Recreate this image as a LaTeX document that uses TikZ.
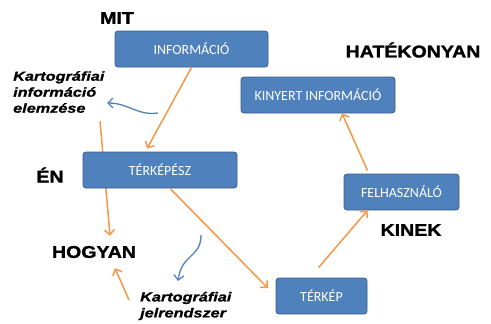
\documentclass[tikz,border=0pt]{standalone}
\usepackage{fontspec}
\usepackage{tikz}
\usetikzlibrary{positioning,backgrounds,arrows.meta}
\newfontfamily\boxfont{Carlito}
\newfontfamily\heavyfont[FakeStretch=1.15,FakeBold=1.5]{Liberation Sans Bold}
\newfontfamily\notefont[FakeStretch=1.25,FakeBold=1]{Liberation Sans Bold Italic}
\definecolor{boxblue}{RGB}{79,129,189}
\definecolor{boxedge}{RGB}{56,93,138}
\definecolor{arrorange}{RGB}{247,150,70}

\begin{document}
\begin{tikzpicture}[ x=1pt , y=-1pt , node distance =1cm , on grid ,
  >={Straight Barb[length=5pt,width=10pt]},
  box/.style={rectangle, rounded corners=3pt, draw=boxedge, line width=0.8pt, fill=boxblue, text=white, font=\boxfont\fontsize{14}{16}\selectfont, minimum height=36pt, inner sep=0pt},
  lbl/.style={font=\heavyfont\fontsize{17}{20}\selectfont, inner sep=0pt},
  note/.style={font=\notefont\fontsize{13}{16}\selectfont, align=left, inner sep=0pt},
  flow/.style={->, color=arrorange, line width=1.5pt},
  hint/.style={->, color=boxblue, line width=1.3pt} ]
\useasboundingbox (0,0) rectangle (491,324);
\node [ box , minimum width=153pt ] (info) at (191.5,49) {INFORMÁCIÓ};
\node [ box , minimum width=154pt ] (terkepesz) at (160,170) {TÉRKÉPÉSZ};
\node [ box , minimum width=154pt ] (kinyert) at (318,95) {KINYERT INFORMÁCIÓ};
\node [ box , minimum width=115pt ] (felh) at (401.5,192) {FELHASZNÁLÓ};
\node [ box , minimum width=91pt ] (terkep) at (321.5,296) {TÉRKÉP};
\node [ lbl ] (mit) [ above left = 31pt and 74.5pt of info ] {MIT};
\node [ lbl ] (hatek) [ above right = 45pt and 95pt of kinyert ] {HATÉKONYAN};
\node [ lbl ] (en) [ below left = 5pt and 110pt of terkepesz ] {ÉN};
\node [ lbl ] (hogyan) [ below left = 82pt and 66pt of terkepesz ] {HOGYAN};
\node [ lbl ] (kinek) [ below right = 38pt and 9.5pt of felh ] {KINEK};
\node [ note , anchor=west ] (elemz) at (13,92) {Kartográfiai\\információ\\elemzése};
\node [ note , anchor=west ] (jelr) at (140,306) {Kartográfiai\\jelrendszer};
% line from the analysis note runs behind the box
\coordinate (c_elemz) at (100,121);
\begin{scope}[on background layer]
\path [flow] (c_elemz) edge ([xshift=16pt,yshift=10pt]hogyan.north);
\end{scope}
\path [flow]
(info.south) edge ([xshift=-13pt,yshift=3pt]terkepesz.north)
([xshift=10pt]terkepesz.south) edge [shorten >=11pt] (terkep.west)
([xshift=-3pt,yshift=10pt]terkep.north) edge ([xshift=-34pt]felh.south)
([xshift=-34pt,yshift=3pt]felh.north) edge ([xshift=24pt]kinyert.south)
([xshift=-11pt,yshift=6pt]jelr.west) edge ([xshift=21pt,yshift=-10pt]hogyan.south);
% blue hints
\coordinate (a_start) at (158,113);
\coordinate (a_end) at (107,103);
\draw [hint] (a_start) .. controls (138,116) and (128,103) .. (a_end);
\coordinate (b_start) at (201,235);
\coordinate (b_end) at (178,281);
\draw [hint] (b_start) .. controls (201,258) and (182,253) .. (b_end);
\end{tikzpicture}
\end{document}
